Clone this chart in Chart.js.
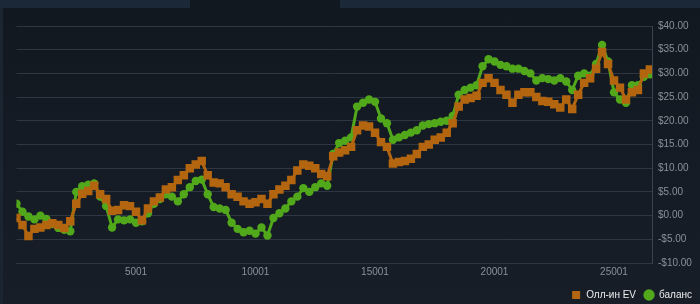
<!DOCTYPE html>
<html lang="ru">

<head>
  <meta charset="utf-8">
  <script src="https://cdn.jsdelivr.net/npm/chart.js@4.4.0/dist/chart.umd.min.js"></script>
  <title>Олл-ин EV</title>
  <style>
    html, body { margin: 0; padding: 0; }
    body {
      width: 700px; height: 304px; overflow: hidden; position: relative;
      background: linear-gradient(#111820, #171e28);
    }
    .strip { position: absolute; background: #1b2838; }
    #chartWrap { position: absolute; left: 0; top: 0; }
  </style>
</head>

<body>
  <div class="strip" style="left:0;top:0;width:190px;height:8px"></div>
  <div class="strip" style="left:340px;top:0;width:360px;height:8px"></div>
  <div class="strip" style="left:0;top:8px;width:3px;height:296px;background:#1a2531"></div>
  <div id="chartWrap"><canvas id="myChart" width="700" height="304"></canvas></div>

  <script>
    var evValues = [
      -0.5, -2.0, -4.3, -2.8, -2.5, -2.0, -1.6, -2.0, -2.6, -1.2,
      2.5, 4.6, 5.2, 6.3, 4.5, 3.5, 1.0, 1.2, 2.2, 2.0,
      0.8, -1.0, 1.5, 3.0, 3.8, 5.5, 6.0, 7.5, 8.5, 10.0,
      10.8, 11.5, 8.5, 7.0, 6.8, 6.0, 4.5, 4.0, 3.0, 2.5,
      2.8, 3.5, 2.5, 4.5, 5.5, 6.3, 7.5, 9.5, 10.8, 10.5,
      10.0, 8.8, 8.3, 12.5, 13.3, 13.8, 14.5, 18.0, 19.0, 18.8,
      17.5, 15.5, 14.5, 11.0, 11.3, 11.5, 12.0, 13.0, 14.5, 15.0,
      16.0, 16.5, 17.5, 19.5, 23.0, 24.5, 24.8, 25.3, 28.0, 29.0,
      28.0, 26.5, 25.5, 23.8, 25.5, 26.0, 26.0, 25.0, 24.2, 24.0,
      23.5, 22.8, 24.5, 22.5, 25.5, 28.0, 29.0, 31.0, 34.5, 32.0,
      28.5, 27.0, 24.5, 26.0, 26.5, 30.0, 30.8
    ];

    var balanceValues = [
      2.5, 0.8, -0.2, -0.8, 0.0, -0.7, -1.8, -2.6, -3.0, -3.3,
      5.0, 6.2, 6.5, 6.8, 4.0, 2.0, -2.5, -0.8, -1.0, -0.8,
      -1.5, -1.2, 0.5, 2.5, 3.5, 4.5, 4.0, 3.0, 4.5, 6.0,
      7.3, 7.6, 4.5, 1.8, 1.5, 1.2, -1.5, -2.8, -3.5, -3.2,
      -3.8, -2.5, -4.2, -0.5, 0.5, 1.5, 3.0, 4.0, 5.8, 5.0,
      6.0, 6.8, 6.3, 13.0, 15.3, 15.8, 16.5, 23.0, 23.8, 24.5,
      24.0, 20.5, 19.5, 16.0, 16.5, 17.0, 17.5, 18.0, 19.0, 19.3,
      19.5, 19.8, 20.0, 21.0, 25.5, 26.5, 27.0, 27.5, 31.5, 33.0,
      32.5, 31.8, 31.5, 31.0, 31.0, 30.5, 30.0, 28.5, 29.0, 28.8,
      28.5, 29.0, 28.3, 26.5, 29.5, 30.0, 29.5, 32.0, 36.0, 32.5,
      26.0, 24.5, 23.8, 27.5, 27.5, 29.3, 29.8
    ];

    var hands = evValues.map(function(v, i) {
      return 1 + i * 250;
    });

    var xTicks = [5001, 10001, 15001, 20001, 25001];
    var yTicks = [-10, -5, 0, 5, 10, 15, 20, 25, 30, 35, 40];

    var orange = '#b3660f';
    var green = '#52a81b';
    var tickColor = '#8a9098';
    var gridColor = '#2e3741';

    function toPoints(values) {
      return values.map(function(v, i) {
        return { x: hands[i], y: v };
      });
    }

    const data = {
      datasets: [{
        label: 'Олл-ин EV',
        data: toPoints(evValues),
        borderColor: orange,
        backgroundColor: orange,
        pointBackgroundColor: orange,
        pointBorderColor: orange,
        pointStyle: 'rect',
        pointRadius: 6,
        pointBorderWidth: 0,
        borderWidth: 3
      }, {
        label: 'баланс',
        data: toPoints(balanceValues),
        borderColor: green,
        backgroundColor: green,
        pointBackgroundColor: green,
        pointBorderColor: green,
        pointStyle: 'circle',
        pointRadius: 4.2,
        pointBorderWidth: 0,
        borderWidth: 3
      }]
    };

    const config = {
      type: 'line',
      data: data,
      options: {
        responsive: false,
        animation: false,
        devicePixelRatio: 1,
        layout: { padding: { left: 16.5, right: 0, top: 26, bottom: -6 } },
        scales: {
          x: {
            type: 'linear',
            min: 1,
            max: 26590,
            afterBuildTicks: function(scale) {
              scale.ticks = xTicks.map(function(v) { return { value: v }; });
            },
            afterFit: function(scale) { scale.height = 19; },
            ticks: {
              autoSkip: false,
              maxRotation: 0,
              padding: 3,
              color: tickColor,
              font: { family: 'Liberation Sans, Arial', size: 10 },
              callback: function(v) { return String(v); }
            },
            grid: { display: false, drawTicks: false },
            border: { display: true, color: gridColor }
          },
          y: {
            position: 'right',
            min: -10,
            max: 40,
            afterBuildTicks: function(scale) {
              scale.ticks = yTicks.map(function(v) { return { value: v }; });
            },
            afterFit: function(scale) { scale.width = 48; },
            ticks: {
              padding: 6,
              color: tickColor,
              font: { family: 'Liberation Sans, Arial', size: 10 },
              callback: function(v) {
                return (v < 0 ? '-$' : '$') + Math.abs(v).toFixed(2);
              }
            },
            grid: { color: gridColor, drawTicks: false },
            border: { display: true, color: '#3a444f' }
          }
        },
        plugins: {
          legend: {
            position: 'bottom',
            align: 'end',
            labels: {
              usePointStyle: true,
              boxHeight: 8,
              padding: 8,
              color: '#ececec',
              font: { family: 'Liberation Sans, Arial', size: 10 }
            }
          },
          tooltip: { enabled: false }
        }
      }
    };

    var myChart = new Chart(document.getElementById('myChart'), config);
  </script>
</body>

</html>
